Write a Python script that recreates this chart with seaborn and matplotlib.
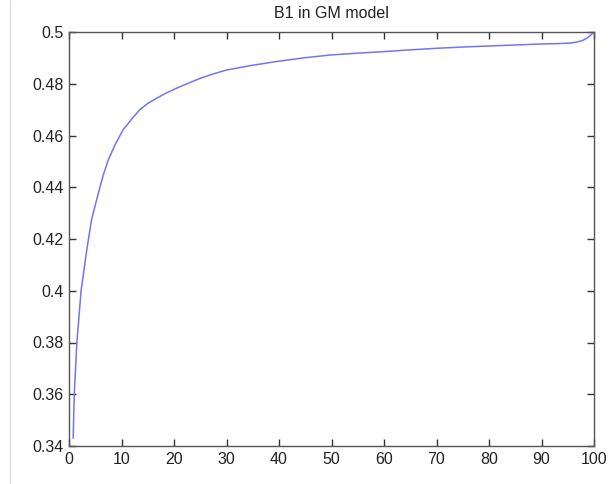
import matplotlib
matplotlib.use("Agg")
import matplotlib.pyplot as plt
from matplotlib.lines import Line2D
import numpy as np
import pandas as pd
import seaborn as sns

# Iteration index and B1 estimate
iteration = [0.8, 1.0, 1.5, 2.3, 3.4, 4.3, 5.5, 6.5, 7.5, 8.8, 10.3, 12.0,
             13.5, 15.0, 16.7, 18.5, 20.5, 22.7, 25.0, 27.5, 30.0, 34.5,
             39.6, 44.7, 49.7, 54.8, 59.9, 65.0, 70.0, 75.1, 80.2, 85.2,
             90.3, 93.0, 95.4, 96.7, 97.8, 98.8, 100.0]
b1_value = [0.343, 0.360, 0.380, 0.400, 0.416, 0.4275, 0.437, 0.4445, 0.4507,
            0.4565, 0.4622, 0.4665, 0.4700, 0.4724, 0.4744, 0.4764, 0.4783,
            0.4802, 0.4821, 0.4838, 0.4853, 0.4870, 0.4886, 0.4900, 0.4911,
            0.4918, 0.4924, 0.4931, 0.4937, 0.4942, 0.4946, 0.4950, 0.4954,
            0.4955, 0.4957, 0.4961, 0.4967, 0.4978, 0.4999]

x_ticks = [0, 10, 20, 30, 40, 50, 60, 70, 80, 90, 100]
y_ticks = [0.34, 0.36, 0.38, 0.40, 0.42, 0.44, 0.46, 0.48, 0.50]
y_tick_labels = ["0.34", "0.36", "0.38", "0.4", "0.42", "0.44", "0.46", "0.48", "0.5"]

df = pd.DataFrame({"iteration": iteration, "B1": b1_value})

sns.set_theme(style="white")
plt.rcParams["font.family"] = ["Liberation Sans", "DejaVu Sans"]

fig = plt.figure(figsize=(6.16, 4.84), dpi=100)
fig.patch.set_facecolor("white")
ax = fig.add_axes([69 / 616, 1 - 446 / 484, (594 - 69) / 616, (446 - 32) / 484])

sns.lineplot(data=df, x="iteration", y="B1", ax=ax, sort=False,
             estimator=None, color="#7474ee", linewidth=1.1)

ax.set_xlim(0, 100)
ax.set_ylim(0.34, 0.5)
ax.set_xticks(x_ticks)
ax.set_xticklabels([str(t) for t in x_ticks])
ax.set_yticks(y_ticks)
ax.set_yticklabels(y_tick_labels)
ax.set_xlabel("")
ax.set_ylabel("")
ax.set_title("B1 in GM model", fontsize=11.5, color="#222222", pad=10)

for spine in ax.spines.values():
    spine.set_visible(True)
    spine.set_color("#555555")
    spine.set_linewidth(1.0)

ax.tick_params(axis="both", which="both", direction="in", length=5, width=1,
               color="#333333", labelsize=11.5, labelcolor="#222222",
               top=True, right=True, bottom=True, left=True, pad=4)

# faint frame line along the left edge of the figure window
fig.add_artist(Line2D([9.5 / 616, 9.5 / 616], [0, 1], transform=fig.transFigure,
                      color="#dcdcdc", linewidth=1))

fig.savefig("out.png", dpi=100, facecolor="white")
